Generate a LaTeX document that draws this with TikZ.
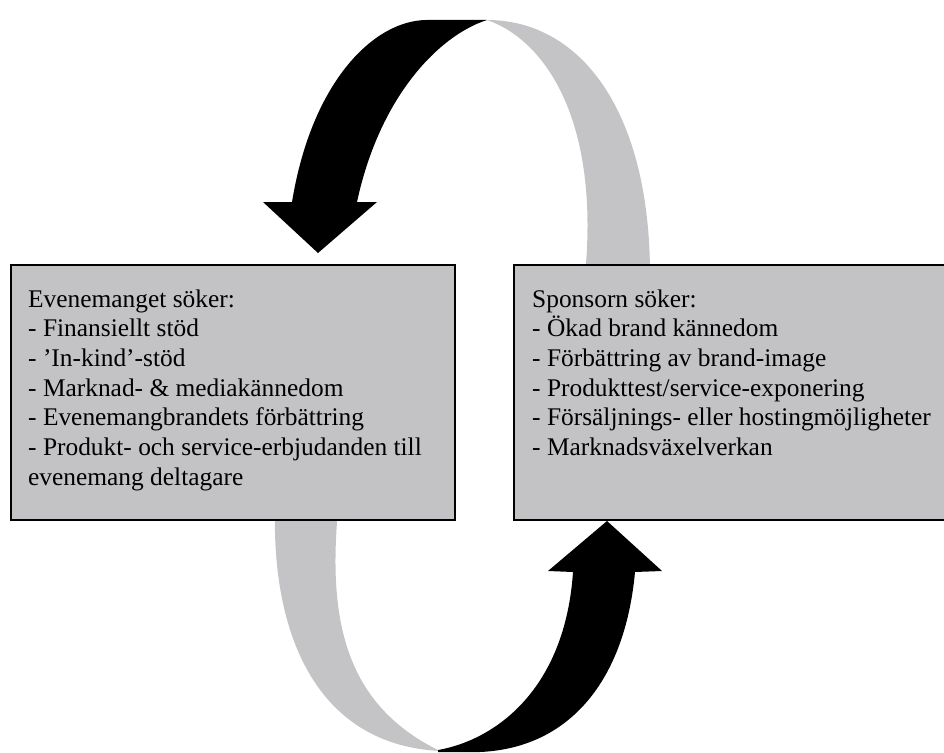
\documentclass[tikz,border=0pt]{standalone}
\usepackage{fontspec}
\setmainfont{Liberation Serif}
\definecolor{boxgray}{HTML}{C3C3C5}
\definecolor{arcgray}{HTML}{C4C4C6}
\begin{document}
\begin{tikzpicture}[x=1pt,y=-1pt,
  txt/.style={anchor=base west, inner sep=0pt, font=\fontsize{25.4}{29.7}\selectfont},
  panel/.style={draw=black, line width=2.2pt, fill=boxgray, anchor=north west, inner sep=0pt, minimum height=255pt}]
\clip (0,0) rectangle (944,752);
\useasboundingbox (0,0) rectangle (944,752);
% grey arc, top right
\fill[arcgray] (487,20) .. controls (580,20) and (650,110) .. (650,275) -- (585,275) .. controls (600,120) and (545,40) .. (487,20) -- cycle;
% black arrow, top left
\fill[black] (487,20) -- (427,20) .. controls (375,20) and (312,80) .. (292,202) -- (263,202) -- (318,253) -- (377,202) -- (357,202) .. controls (380,95) and (440,35) .. (487,20) -- cycle;
% grey arc, bottom left
\fill[arcgray] (275,510) .. controls (272,640) and (320,745) .. (440,751) .. controls (345,705) and (328,620) .. (338,510) -- cycle;
% black arrow, bottom right
\fill[black] (438,750) .. controls (495,740) and (565,690) .. (573,572) -- (548,571) -- (607,521) -- (662,571) -- (635,572) .. controls (625,680) and (570,748) .. (480,752) -- (438,752) -- cycle;
% boxes
\node[panel, minimum width=444pt] (ev) at (10,264) {};
\node[panel, minimum width=450pt] (sp) at (513,264) {};
% texts
\foreach \t [count=\i] in {Evenemanget söker:, - Finansiellt stöd, - ’In-kind’-stöd, - Marknad- \& mediakännedom, - Evenemangbrandets förbättring, - Produkt- och service-erbjudanden till, evenemang deltagare}
  \node[txt] (ev\i) at (28,{307+29.7*(\i-1)}) {\t};
\foreach \t [count=\i] in {Sponsorn söker:, - Ökad brand kännedom, - Förbättring av brand-image, - Produkttest/service-exponering, - Försäljnings- eller hostingmöjligheter, - Marknadsväxelverkan}
  \node[txt] (sp\i) at (532,{307+29.7*(\i-1)}) {\t};
\end{tikzpicture}
\end{document}
